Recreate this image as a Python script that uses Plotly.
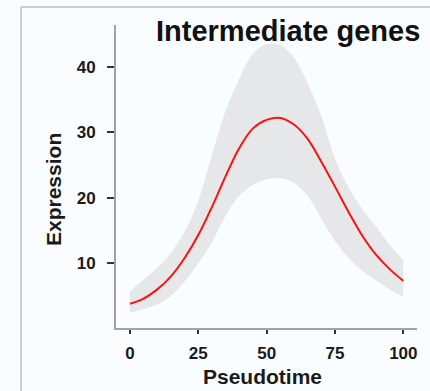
import plotly.graph_objects as go

pseudotime = [0, 5, 10, 15, 20, 25, 30, 35, 40, 45, 50, 55, 60, 65, 70, 75, 80, 85, 90, 95, 100]
expr_mean = [3.8, 4.6, 6.0, 8.0, 10.8, 14.3, 18.6, 23.3, 27.6, 30.6, 31.9, 32.2, 31.2, 29.0, 25.5, 21.7, 17.8, 14.2, 11.3, 9.1, 7.3]
expr_upper = [5.7, 7.5, 9.3, 11.6, 14.8, 19.6, 26.6, 33.3, 38.2, 42.0, 43.5, 43.3, 41.4, 37.5, 32.5, 26.0, 21.5, 18.3, 15.6, 12.8, 10.5]
expr_lower = [2.4, 3.0, 3.7, 5.0, 7.2, 10.0, 13.2, 17.3, 20.3, 22.0, 22.8, 23.0, 22.3, 20.3, 16.8, 13.4, 10.8, 8.8, 7.4, 6.0, 4.9]
x_ticks = [0, 25, 50, 75, 100]
y_ticks = [10, 20, 30, 40]

FONT = "Liberation Sans, Arial, sans-serif"
BG = "#fafdff"

fig = go.Figure()
fig.add_trace(go.Scatter(x=pseudotime, y=expr_lower, mode="lines", line=dict(width=0, shape="spline"),
                         hoverinfo="skip", showlegend=False))
fig.add_trace(go.Scatter(x=pseudotime, y=expr_upper, mode="lines", line=dict(width=0, shape="spline"),
                         fill="tonexty", fillcolor="#e5e7e9", hoverinfo="skip", showlegend=False))
fig.add_trace(go.Scatter(x=pseudotime, y=expr_mean, mode="lines",
                         line=dict(color="#ff1010", width=2, shape="spline"), showlegend=False))

W, H = 430, 391
L, R, T, B = 116, 13, 25, 63
pw, ph = W - L - R, H - T - B

def px(xp):
    return (xp - L) / pw

def py(yp):
    return (H - B - yp) / ph

fig.update_layout(
    width=W, height=H,
    margin=dict(l=L, r=R, t=T, b=B, pad=0),
    paper_bgcolor=BG, plot_bgcolor=BG,
    showlegend=False,
    xaxis=dict(range=[-5.1, 105.0], tickvals=x_ticks, ticks="outside", ticklen=4, tickwidth=2,
               tickcolor="#333333", showline=True, linecolor="#a3a3a3", linewidth=2,
               showgrid=False, zeroline=False, ticklabelstandoff=5,
               tickfont=dict(family=FONT, size=17, color="#1a1a1a", weight="bold")),
    yaxis=dict(range=[0.1, 46.4], tickvals=y_ticks, ticks="outside", ticklen=7, tickwidth=1.5,
               tickcolor="#333333", showline=True, linecolor="#a3a3a3", linewidth=2,
               showgrid=False, zeroline=False, ticklabelstandoff=8,
               tickfont=dict(family=FONT, size=17, color="#1a1a1a", weight="bold")),
    shapes=[
        dict(type="line", xref="paper", yref="paper", x0=px(21), x1=px(431), y0=py(7), y1=py(7),
             line=dict(color="#cfcfcf", width=2)),
        dict(type="line", xref="paper", yref="paper", x0=px(21), x1=px(21), y0=py(7), y1=py(392),
             line=dict(color="#cfcfcf", width=2)),
    ],
    annotations=[
        dict(text="Intermediate genes", xref="paper", yref="paper", x=px(287.5), y=py(31.5),
             xanchor="center", yanchor="middle", showarrow=False,
             font=dict(family=FONT, size=29, color="#111111", weight="bold")),
        dict(text="Expression", xref="paper", yref="paper", x=px(53), y=py(190),
             xanchor="center", yanchor="middle", showarrow=False, textangle=-90,
             font=dict(family=FONT, size=21, color="#1a1a1a", weight="bold")),
        dict(text="Pseudotime", xref="paper", yref="paper", x=px(262), y=py(376),
             xanchor="center", yanchor="middle", showarrow=False,
             font=dict(family=FONT, size=21, color="#1a1a1a", weight="bold")),
    ],
)

fig.write_html("out.html")
